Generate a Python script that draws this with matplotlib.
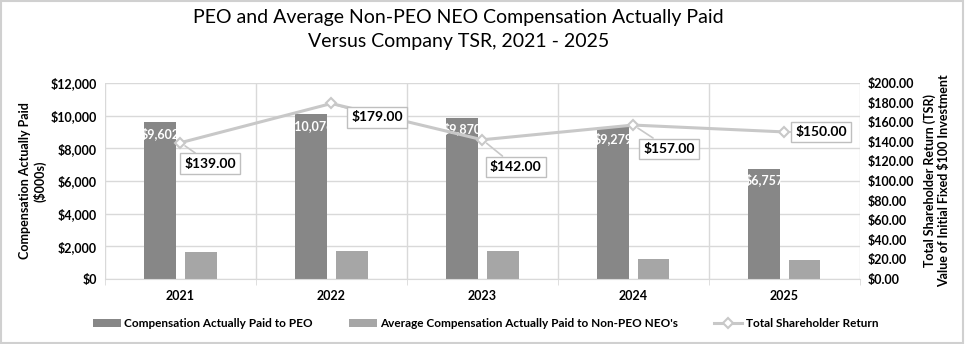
import matplotlib.pyplot as plt
import numpy as np
from matplotlib.patches import Rectangle

years = ['2021', '2022', '2023', '2024', '2025']
peo_cap = [9602, 10076, 9870, 9279, 6757]
neo_cap = [1680, 1740, 1740, 1220, 1180]
tsr = [139.00, 179.00, 142.00, 157.00, 150.00]
# label offsets (points) for the TSR callouts
tsr_offsets = [(21.6, -15), (33, -10), (24, -19.4), (26, -17), (26.6, 0)]

plt.rcParams['font.family'] = ['Lato', 'DejaVu Sans']

dark = '#878787'
light = '#a6a6a6'
line_col = '#c8c8c8'
grid_col = '#d9d9d9'

fig = plt.figure(figsize=(9.65, 3.44), dpi=100)
ax = fig.add_axes([0.1088, 0.189, 0.782, 0.570])
ax2 = ax.twinx()

x = np.arange(len(years))
w = 0.21
off = 0.135
b1 = ax.bar(x - off, peo_cap, w, color=dark, zorder=2, label='Compensation Actually Paid to PEO')
b2 = ax.bar(x + off, neo_cap, w, color=light, zorder=2,
            label="Average Compensation Actually Paid to Non-PEO NEO's")

for xi, v in zip(x, peo_cap):
    ax.text(xi - off, v - 280, '${:,}'.format(v), color='white', fontsize=9,
            fontweight='bold', ha='center', va='top', zorder=3)

ax.set_xlim(-0.5, 4.5)
ax.set_ylim(0, 12000)
ax.set_yticks(range(0, 12001, 2000))
ax.set_yticklabels(['${:,}'.format(v) for v in range(0, 12001, 2000)],
                   fontsize=9, fontweight='bold')
ax.set_xticks(x)
ax.set_xticklabels(years, fontsize=9, fontweight='bold')
ax.set_xticks(np.arange(-0.5, 5, 1), minor=True)
ax.tick_params(axis='x', which='major', length=0, pad=8)
ax.tick_params(axis='x', which='minor', length=4, color=grid_col)
ax.tick_params(axis='y', length=0, pad=6)
ax.grid(axis='y', color=grid_col, lw=1, zorder=0)
ax.grid(axis='x', which='minor', color=grid_col, lw=1, zorder=0)
ax.set_axisbelow(True)
for s in ax.spines.values():
    s.set_visible(False)
ax.spines['bottom'].set_visible(True)
ax.spines['bottom'].set_color(grid_col)
ax.set_ylabel('Compensation Actually Paid\n($000s)', fontsize=9, fontweight='bold', labelpad=3)

ln, = ax2.plot(x, tsr, color=line_col, lw=2.2, marker='D', markersize=5.5,
               markerfacecolor='white', markeredgecolor=line_col, markeredgewidth=1.5,
               zorder=4, label='Total Shareholder Return')
ax2.set_ylim(0, 200)
ax2.set_yticks(range(0, 201, 20))
ax2.set_yticklabels(['${:.2f}'.format(v) for v in range(0, 201, 20)],
                    fontsize=9, fontweight='bold')
ax2.tick_params(axis='y', length=0, pad=6)
for s in ax2.spines.values():
    s.set_visible(False)
ax2.set_ylabel('Total Shareholder Return (TSR)\nValue of Initial Fixed $100 Investment',
               fontsize=9, fontweight='bold', labelpad=6)

for xi, v, o in zip(x, tsr, tsr_offsets):
    ax2.annotate('${:.2f}'.format(v), xy=(xi, v), xytext=o, textcoords='offset points',
                 fontsize=10, fontweight='bold', ha='center', va='center', zorder=5,
                 bbox=dict(boxstyle='square,pad=0.3', fc='white', ec='#bfbfbf', lw=1),
                 arrowprops=dict(arrowstyle='-', color=line_col, lw=1.2, shrinkA=0, shrinkB=4))

fig.suptitle('PEO and Average Non-PEO NEO Compensation Actually Paid\nVersus Company TSR, 2021 - 2025',
             fontsize=14, x=0.475, y=0.975, linespacing=1.55)

handles = [b1, b2, ln]
fig.legend(handles, [h.get_label() for h in handles], loc='center', bbox_to_anchor=(0.503, 0.06),
           ncol=3, frameon=False, handlelength=2.4, handletextpad=0.3, columnspacing=3.0,
           prop={'weight': 'bold', 'size': 8.5})

fig.patches.append(Rectangle((0.001, 0.002), 0.997, 0.995, transform=fig.transFigure,
                             fill=False, ec='#d0d0d0', lw=1.5))

fig.savefig('out.png', dpi=100)
